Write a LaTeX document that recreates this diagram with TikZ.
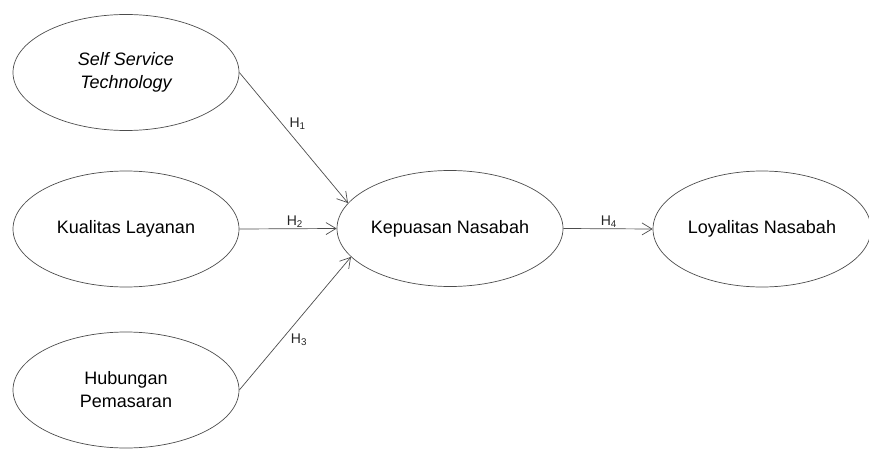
\documentclass[tikz,border=0pt]{standalone}
\usepackage{fontspec}
\setmainfont{Liberation Sans}
\usetikzlibrary{shapes.geometric,arrows.meta}
\begin{document}
\begin{tikzpicture}[x=1pt,y=-1pt,
  construct/.style={ellipse,draw=black!70,line width=0.7pt,minimum width=226pt,minimum height=116pt,inner sep=0pt,align=center,font=\fontsize{18}{23}\selectfont},
  link/.style={draw=black!70,line width=0.7pt,-{Straight Barb[length=10pt,width=12pt,line width=0.7pt]}},
  hyp/.style={font=\fontsize{14}{16}\selectfont,inner sep=1pt,text=black!85}]
\useasboundingbox (0,0) rectangle (869,449);
\node[construct] (sst) at (126,72.5) {\itshape Self Service\\\itshape Technology};
\node[construct] (kl) at (126,229) {Kualitas Layanan};
\node[construct] (hp) at (126,390) {Hubungan\\Pemasaran};
\node[construct] (kn) at (450,228.5) {Kepuasan Nasabah};
\node[construct,minimum width=218pt] (ln) at (762,229) {Loyalitas Nasabah};
\draw[link] (sst.east) -- node[hyp,pos=0.45,anchor=south west]{H\textsubscript{1}} (kn.166);
\draw[link] (kl.east) -- node[hyp,pos=0.57,anchor=south]{H\textsubscript{2}} (kn.west);
\draw[link] (hp.east) -- node[hyp,pos=0.45,anchor=north west,yshift=-2pt]{H\textsubscript{3}} (kn.196);
\draw[link] (kn.east) -- node[hyp,pos=0.51,anchor=south]{H\textsubscript{4}} (ln.west);
\end{tikzpicture}
\end{document}
